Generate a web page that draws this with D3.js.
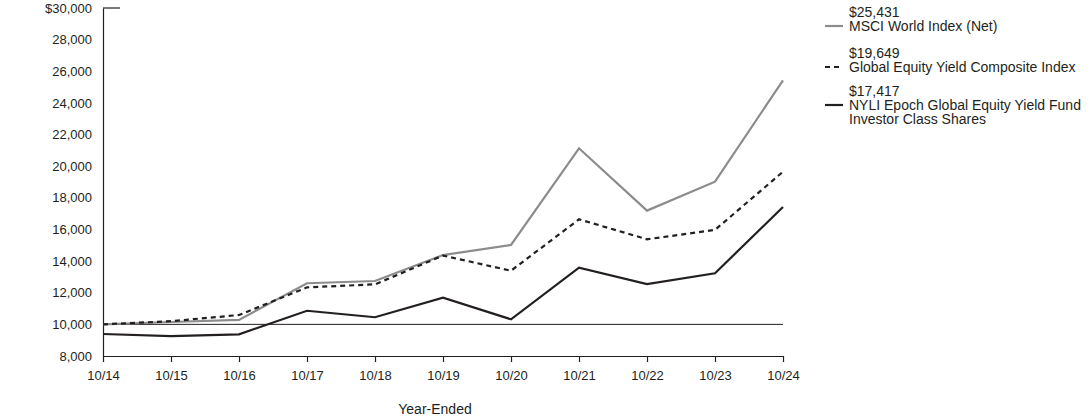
<!DOCTYPE html>
<html><head><meta charset="utf-8">
<script src="https://cdn.jsdelivr.net/npm/d3@7"></script>
<style>body{margin:0;background:#fff;} text{font-family:"Liberation Sans",Arial,sans-serif;fill:#231f20;}</style>
</head><body>
<svg id="c" width="1092" height="417"></svg>
<script>
const categories = ["10/14","10/15","10/16","10/17","10/18","10/19","10/20","10/21","10/22","10/23","10/24"];
const msci = [10000,10150,10280,12600,12740,14380,15020,21130,17190,19020,25431];
const composite = [10000,10200,10590,12340,12530,14350,13390,16640,15380,15970,19649];
const fund = [9390,9260,9370,10860,10450,11690,10320,13580,12550,13230,17417];
const yTicks = [8000,10000,12000,14000,16000,18000,20000,22000,24000,26000,28000,30000];
const legendItems = [
  {value:"$25,431", name:["MSCI World Index (Net)"], color:"#8c8c8c", dash:null},
  {value:"$19,649", name:["Global Equity Yield Composite Index"], color:"#231f20", dash:"5,4"},
  {value:"$17,417", name:["NYLI Epoch Global Equity Yield Fund","Investor Class Shares"], color:"#231f20", dash:null}
];
const seriesList = [
  {data:msci, color:"#8c8c8c", dash:null},
  {data:composite, color:"#231f20", dash:"5,4"},
  {data:fund, color:"#231f20", dash:null}
];

const svg = d3.select("#c");
const x = d3.scalePoint().domain(categories).range([103,783]);
const y = d3.scaleLinear().domain([8000,30000]).range([356,8]);
const fmt = d3.format(",");

// y axis
const ya = svg.append("g").attr("transform","translate(103,0)")
  .call(d3.axisLeft(y).tickValues(yTicks).tickSize(0).tickPadding(11).tickFormat(d=> d===30000 ? "$"+fmt(d) : fmt(d)));
ya.select(".domain").attr("stroke","#231f20").attr("stroke-width",1.2);
ya.selectAll("text").style("font-size","13px").attr("fill","#231f20");
svg.append("line").attr("x1",103).attr("x2",120).attr("y1",y(30000)).attr("y2",y(30000)).attr("stroke","#231f20").attr("stroke-width",1.2);

// x axis
const xa = svg.append("g").attr("transform","translate(0,356)")
  .call(d3.axisBottom(x).tickSize(6).tickSizeOuter(0).tickPadding(9));
xa.select(".domain").attr("stroke","#231f20").attr("stroke-width",1.2);
xa.selectAll(".tick line").attr("stroke","#231f20").attr("stroke-width",1.2);
xa.selectAll("text").style("font-size","13px").attr("fill","#231f20");

svg.append("text").attr("x",435).attr("y",414).attr("text-anchor","middle").style("font-size","14px").text("Year-Ended");

// baseline 10,000
svg.append("line").attr("x1",103).attr("x2",783).attr("y1",y(10000)).attr("y2",y(10000)).attr("stroke","#231f20").attr("stroke-width",1);

const line = d3.line().x((d,i)=>x(categories[i])).y(d=>y(d));
seriesList.forEach(s=>{
  svg.append("path").datum(s.data).attr("d",line).attr("fill","none")
    .attr("stroke",s.color).attr("stroke-width",2.2).attr("stroke-dasharray",s.dash);
});

// legend
const valueBase = [17,58,96];
legendItems.forEach((it,i)=>{
  const g = svg.append("g");
  const nb = valueBase[i] + 14;
  g.append("line").attr("x1",825).attr("x2",843).attr("y1",nb-5).attr("y2",nb-5)
    .attr("stroke",it.color).attr("stroke-width",2.2).attr("stroke-dasharray",it.dash);
  g.append("text").attr("x",849).attr("y",valueBase[i]).style("font-size","14px").text(it.value);
  it.name.forEach((n,j)=>{
    g.append("text").attr("x",849).attr("y",nb+j*14).style("font-size","14px").text(n);
  });
});
</script>
</body></html>
